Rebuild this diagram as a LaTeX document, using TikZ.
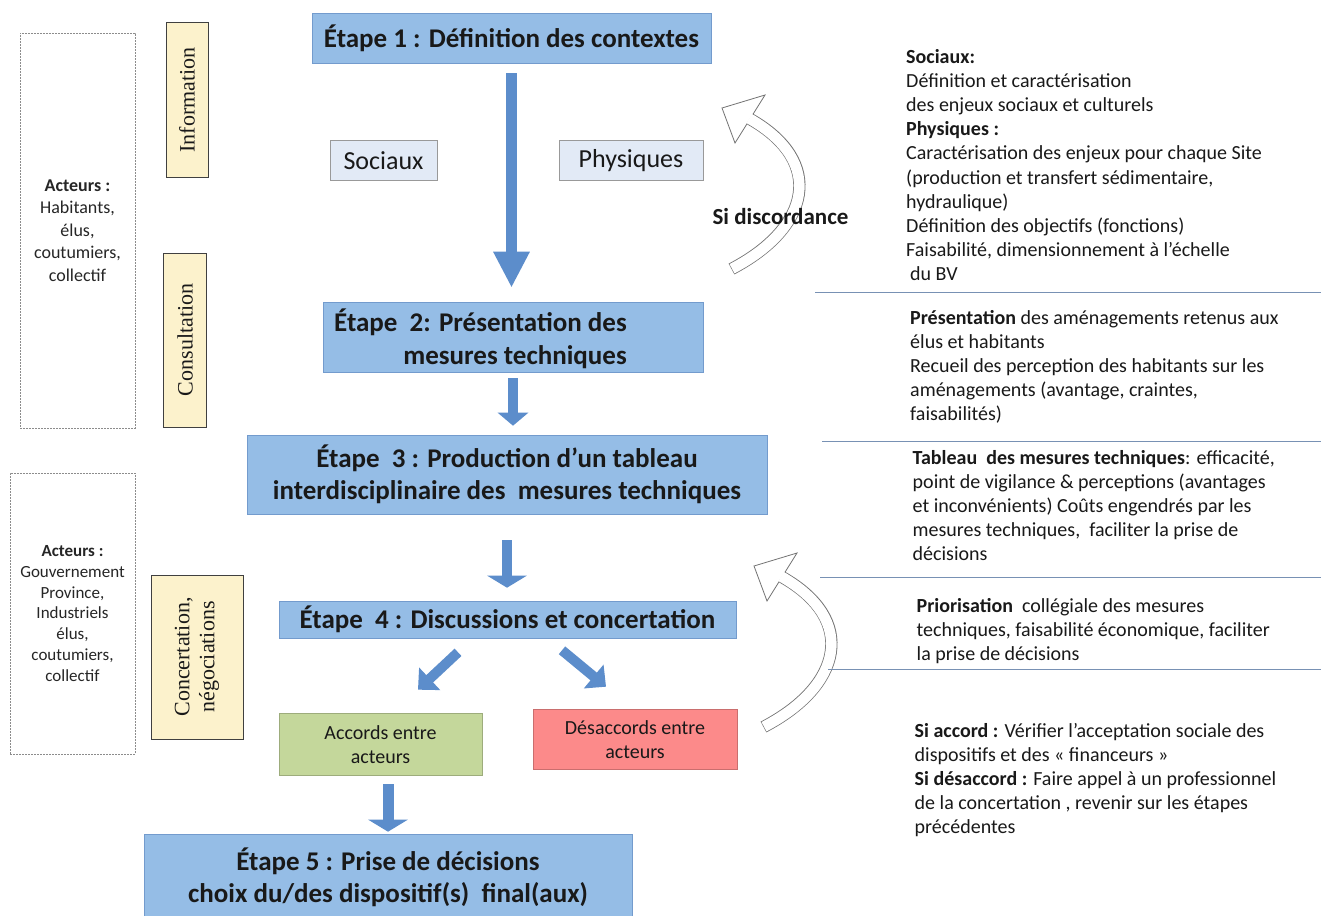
\documentclass[tikz,border=0pt]{standalone}
\usepackage{fontspec}
\setmainfont{Carlito}
\newfontfamily\serifvert{Liberation Serif}
\usetikzlibrary{arrows.meta,calc}
\definecolor{stepfill}{RGB}{149,189,230}
\definecolor{stepdraw}{RGB}{115,155,205}
\definecolor{arrowblue}{RGB}{92,141,203}
\definecolor{ctxfill}{RGB}{226,234,246}
\definecolor{cream}{RGB}{252,242,204}
\definecolor{greenbox}{RGB}{196,215,155}
\definecolor{redbox}{RGB}{252,138,138}
\definecolor{sepcol}{RGB}{120,145,180}
\definecolor{txt}{RGB}{25,25,25}
\newcommand\fsz[2]{\fontsize{#1}{#2}\selectfont}
\tikzset{
  stepbox/.style={draw=stepdraw, fill=stepfill, line width=0.6pt, inner sep=0pt, font=\bfseries\fsz{27}{32.3}, text=txt, align=center},
  ctxbox/.style={draw=black!40, fill=ctxfill, line width=0.6pt, inner sep=0pt, font=\fsz{26}{30}, text=txt},
  creambox/.style={draw=black!75, fill=cream, line width=1pt, inner sep=0pt},
  vtext/.style={rotate=90, font=\serifvert\fsz{22}{25}, align=center, text=txt},
  actorbox/.style={draw=black!45, dash pattern=on 2pt off 1pt, line width=0.7pt, align=center, inner sep=0pt, text=black!85},
  resbox/.style={line width=0.6pt, font=\fsz{20}{24.5}, align=center, inner sep=0pt, text=txt},
  barrow/.style={draw=arrowblue},
  righttext/.style={anchor=north west, align=left, inner sep=0pt, font=\fsz{20}{24.2}, text=txt},
  sepln/.style={draw=sepcol, line width=1.4pt},
  curvarrow/.pic={
    \draw[black!55, line width=0.8pt, fill=white, line join=miter] (765,95) -- (722,108) -- (735,143) -- cycle;
    \draw[black!55, line width=12.2pt] (731.5,269) .. controls (810,228) and (826,162) .. (750,119);
    \draw[white, line width=10.6pt, shorten <=0.6pt, shorten >=-1pt] (731.5,269) .. controls (810,228) and (826,162) .. (750,119);
  }
}
\begin{document}
\begin{tikzpicture}[x=1pt,y=-1pt]
\fill[white] (0,0) rectangle (1321,915);
\useasboundingbox (0,0) rectangle (1321,915);

% left column
\node[actorbox, minimum width=115, minimum height=395, font=\fsz{18}{22.5}] (act1) at (77.5,230.5)
  {\textbf{Acteurs :}\\Habitants,\\élus,\\coutumiers,\\collectif};
\node[actorbox, minimum width=125, minimum height=281, font=\fsz{17}{20.7}] (act2) at (72.5,613.5)
  {\textbf{Acteurs :}\\Gouvernement\\Province,\\Industriels\\élus,\\coutumiers,\\collectif};
\node[creambox, vtext, minimum width=154, minimum height=42] (info) at (187,100) {Information};
\node[creambox, vtext, minimum width=174, minimum height=43] (consu) at (185,340) {Consultation};
\node[creambox, vtext, minimum width=164, minimum height=92] (conce) at (197,657) {Concertation,\\négociations};

% steps
\node[stepbox, minimum width=399, minimum height=50] (s1) at (511.5,38) {Étape 1 : Définition des contextes};
\node[ctxbox, minimum width=107, minimum height=40] (soc) at (383.5,160.5) {Sociaux};
\node[ctxbox, minimum width=144, minimum height=40] (phy) at (631,160.5) {Physiques};
\node[stepbox, minimum width=380, minimum height=70] (s2) at (513,337) {};
\node[font=\bfseries\fsz{27}{33}, align=right, anchor=east, inner sep=0pt, text=txt] (s2t) at (627,338.5)
  {Étape\ \ 2: Présentation des\\mesures techniques};
\node[stepbox, minimum width=520, minimum height=79] (s3) at (507,474.5)
  {Étape\ \ 3 : Production d’un tableau\\interdisciplinaire des\ \ mesures techniques};
\node[stepbox, minimum width=457, minimum height=37] (s4) at (507.5,619.5) {Étape\ \ 4 : Discussions et concertation};
\node[resbox, draw=greenbox!80!black, fill=greenbox, minimum width=203, minimum height=62] (acc) at (380.5,744.5) {Accords entre\\acteurs};
\node[resbox, draw=redbox!80!black, fill=redbox, minimum width=204, minimum height=60] (des) at (635,739.5) {Désaccords entre\\acteurs};
\node[stepbox, minimum width=488, minimum height=86] (s5) at (388,877)
  {Étape 5 : Prise de décisions\\choix du/des dispositif(s)\ \ final(aux)};

% block arrows
\draw[barrow, line width=11pt, -{Triangle[width=34pt,length=36pt]}]
  ([yshift=-10pt]s1.south) -- ([yshift=14pt]s1.south |- s2.north);
\draw[barrow, line width=10pt, -{Triangle[width=30pt,length=13pt]}]
  ([yshift=-6pt]s2.south) -- ([yshift=9pt]s2.south |- s3.north);
\draw[barrow, line width=10pt, -{Triangle[width=39pt,length=12pt]}]
  ([yshift=-26pt]s3.south) -- ([yshift=13pt]s3.south |- s4.north);
\draw[barrow, line width=10pt, -{Triangle[width=30pt,length=16pt]}]
  ($(s4.south)+(-49.5,14)$) -- ($(acc.north)+(37.5,-23.5)$);
\draw[barrow, line width=10pt, -{Triangle[width=30pt,length=16pt]}]
  ($(s4.south)+(54.5,12)$) -- ($(des.north)+(-29,-22.5)$);
\draw[barrow, line width=11pt, -{Triangle[width=39pt,length=12pt]}]
  ([yshift=-8.5pt]acc.south -| s5.north) -- ([yshift=2pt]s5.north);

% curved return arrows
\pic (arrA) at (0,0) {curvarrow};
\pic (arrB) at (32,458) {curvarrow};
\node[font=\bfseries\fsz{23}{26}, text=txt, inner sep=0pt] (disc) at (780.5,217) {Si discordance};

% separators
\draw[sepln] (815,292.5) -- (1321,292.5);
\draw[sepln] (822,441.5) -- (1321,441.5);
\draw[sepln] (820,577.5) -- (1321,577.5);
\draw[sepln] (828,669.5) -- (1321,669.5);

% right texts
\node[righttext] (t1) at (906,46) {\strut\textbf{Sociaux:}\\Définition et caractérisation\\des enjeux sociaux et culturels\\\textbf{Physiques :}\\Caractérisation des enjeux pour chaque Site\\(production et transfert sédimentaire,\\hydraulique)\\Définition des objectifs (fonctions)\\Faisabilité, dimensionnement à l’échelle\\\hspace*{4pt}du BV};
\node[righttext] (t2) at (910,307) {\strut\textbf{Présentation} des aménagements retenus aux\\élus et habitants\\Recueil des perception des habitants sur les\\aménagements (avantage, craintes,\\faisabilités)};
\node[righttext] (t3) at (912.5,447) {\strut\textbf{Tableau\ \ des mesures techniques}: efficacité,\\point de vigilance \& perceptions (avantages\\et inconvénients) Coûts engendrés par les\\mesures techniques,\ \ faciliter la prise de\\décisions};
\node[righttext] (t4) at (916.5,595) {\strut\textbf{Priorisation}\ \ collégiale des mesures\\techniques, faisabilité économique, faciliter\\la prise de décisions};
\node[righttext] (t5) at (914.5,720) {\strut\textbf{Si accord :} Vérifier l’acceptation sociale des\\dispositifs et des « financeurs »\\\textbf{Si désaccord :} Faire appel à un professionnel\\de la concertation , revenir sur les étapes\\précédentes};
\end{tikzpicture}
\end{document}
